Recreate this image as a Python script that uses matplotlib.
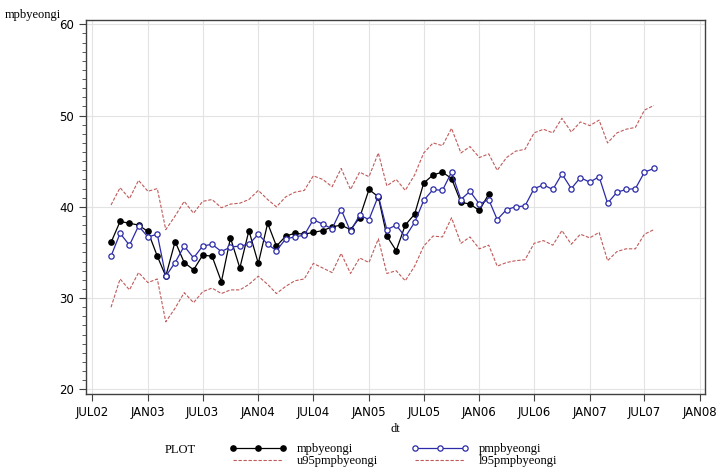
import matplotlib
matplotlib.use("Agg")
import matplotlib.pyplot as plt
import matplotlib.dates as mdates
from matplotlib.ticker import MultipleLocator, FuncFormatter
import numpy as np
import pandas as pd

# monthly series, Sep 2002 .. Aug 2007
dt = pd.date_range("2002-09-01", periods=60, freq="MS")

mpbyeongi = [36.1, 38.4, 38.2, 38.0, 37.3, 34.6, 32.4, 36.2, 33.9, 33.1,
             34.7, 34.6, 31.8, 36.6, 33.3, 37.4, 33.8, 38.2, 35.7, 36.8,
             37.1, 37.0, 37.2, 37.4, 37.8, 38.0, 37.5, 38.8, 41.9, 41.1,
             36.8, 35.2, 38.0, 39.2, 42.6, 43.5, 43.8, 43.1, 40.5, 40.3,
             39.6, 41.4]

pmpbyeongi = [34.6, 37.1, 35.8, 37.9, 36.7, 37.0, 32.4, 33.9, 35.7, 34.4,
              35.7, 35.9, 35.1, 35.6, 35.7, 35.9, 37.0, 35.9, 35.2, 36.5,
              36.7, 36.9, 38.6, 38.1, 37.6, 39.7, 37.3, 39.1, 38.6, 41.2,
              37.5, 38.0, 36.7, 38.3, 40.7, 41.9, 41.8, 43.8, 40.8, 41.7,
              40.3, 40.8, 38.6, 39.7, 40.0, 40.1, 42.0, 42.4, 41.9, 43.6,
              42.0, 43.2, 42.7, 43.3, 40.4, 41.6, 41.9, 42.0, 43.8, 44.2]

u95pmpbyeongi = [40.2, 42.1, 40.9, 42.9, 41.7, 42.0, 37.5, 39.0, 40.6, 39.3,
                 40.6, 40.8, 39.9, 40.3, 40.4, 40.8, 41.8, 40.8, 40.0, 41.1,
                 41.6, 41.8, 43.4, 43.0, 42.2, 44.2, 41.9, 43.8, 43.3, 45.9,
                 42.3, 43.0, 41.8, 43.5, 45.9, 47.0, 46.7, 48.6, 45.9, 46.6,
                 45.4, 45.8, 44.0, 45.4, 46.1, 46.3, 48.1, 48.5, 48.1, 49.7,
                 48.2, 49.3, 48.9, 49.5, 47.0, 48.1, 48.5, 48.7, 50.6, 51.1]

l95pmpbyeongi = [29.0, 32.1, 30.9, 32.8, 31.7, 32.1, 27.4, 28.9, 30.6, 29.5,
                 30.7, 31.1, 30.5, 30.9, 30.9, 31.5, 32.4, 31.5, 30.5, 31.3,
                 31.9, 32.1, 33.8, 33.3, 32.8, 34.9, 32.7, 34.4, 33.9, 36.5,
                 32.7, 33.0, 31.9, 33.5, 35.7, 36.8, 36.7, 38.8, 36.0, 36.7,
                 35.4, 35.8, 33.5, 33.9, 34.1, 34.2, 36.0, 36.3, 35.8, 37.4,
                 35.9, 37.0, 36.6, 37.2, 34.1, 35.1, 35.4, 35.4, 37.0, 37.5]

red = "#c05a5a"
blue = "#2b2ba8"
serif = ["Liberation Serif", "DejaVu Serif"]

fig = plt.figure(figsize=(7.16, 4.69), dpi=100)
ax = fig.add_axes([0.120, 0.160, 0.865, 0.798])

p1, = ax.plot(dt[:len(mpbyeongi)], mpbyeongi, color="black", lw=0.9,
              marker="o", ms=3.8, mfc="black", mec="black")
p2, = ax.plot(dt, pmpbyeongi, color=blue, lw=0.9, marker="o", ms=3.8,
              mfc="white", mec=blue, mew=0.9)
p3, = ax.plot(dt, u95pmpbyeongi, color=red, lw=0.8, ls=(0, (3, 1.5)))
p4, = ax.plot(dt, l95pmpbyeongi, color=red, lw=0.8, ls=(0, (3, 1.5)))

ax.set_ylim(19.5, 60.5)
ax.set_xlim(pd.Timestamp("2002-06-10"), pd.Timestamp("2008-01-18"))
ax.yaxis.set_major_locator(MultipleLocator(10))
ax.yaxis.set_minor_locator(MultipleLocator(1))
ax.xaxis.set_major_locator(mdates.MonthLocator(bymonth=[1, 7]))
ax.xaxis.set_major_formatter(FuncFormatter(
    lambda v, pos: mdates.num2date(v).strftime("%b%y").upper()))

ax.grid(True, which="major", color="#e3e3e3", lw=0.8)
ax.set_axisbelow(True)
for s in ax.spines.values():
    s.set_color("#404040")
    s.set_linewidth(1.0)
ax.tick_params(which="both", direction="out", colors="#404040", labelcolor="black",
               labelsize=8.5)
ax.tick_params(which="major", length=5)
ax.tick_params(which="minor", length=3)

ax.set_xlabel("dt", fontsize=9, family=serif, labelpad=3)
fig.text(0.007, 0.955, "mpbyeongi", fontsize=9, family=serif, va="bottom")

fig.text(0.230, 0.040, "PLOT", fontsize=9, family=serif, va="center")
leg = fig.legend([p1, p3, p2, p4],
                 ["mpbyeongi", "u95pmpbyeongi", "pmpbyeongi", "l95pmpbyeongi"],
                 ncol=2, loc="center left", bbox_to_anchor=(0.304, 0.029),
                 frameon=False, numpoints=3, handlelength=4.6,
                 prop={"family": serif, "size": 9}, labelspacing=0.0,
                 columnspacing=2.7, handletextpad=0.8)

fig.savefig("out.png", dpi=100)
